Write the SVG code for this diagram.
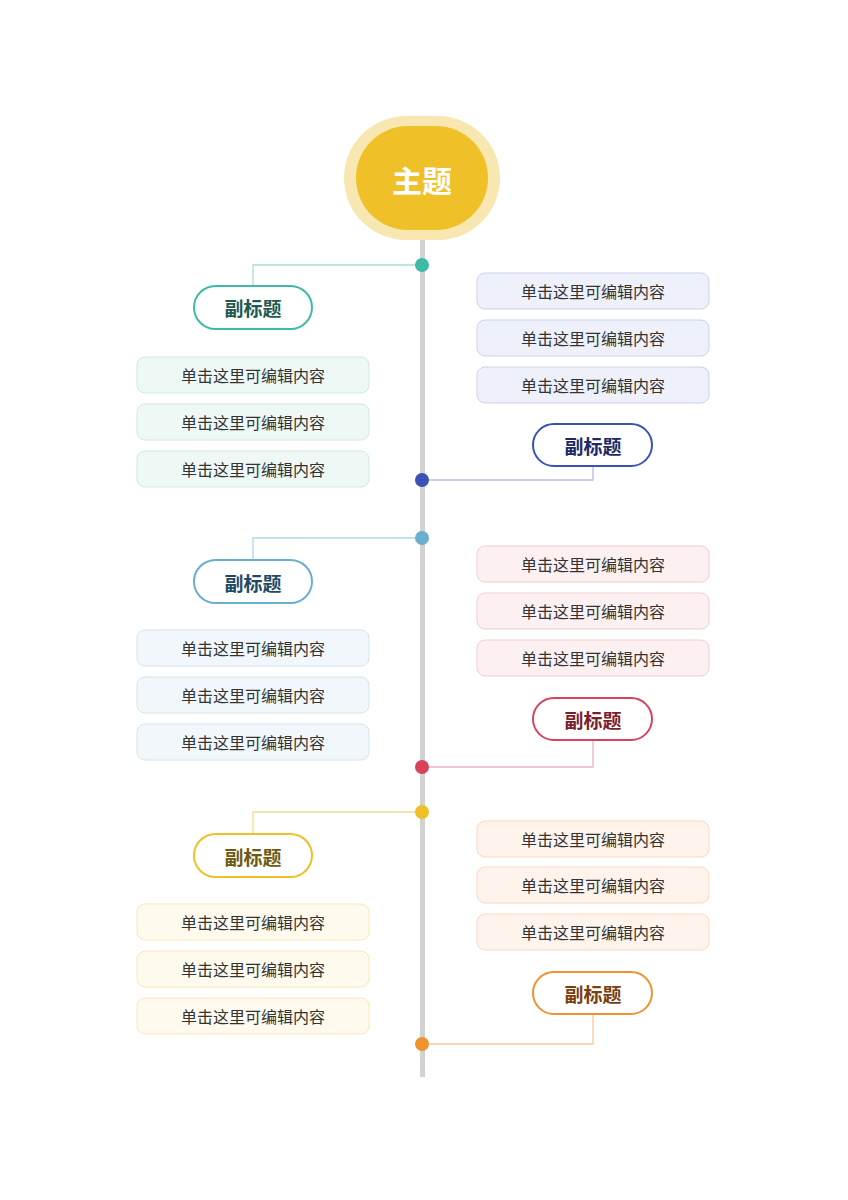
<svg xmlns="http://www.w3.org/2000/svg" width="848" height="1200" viewBox="0 0 848 1200">
<style>
text{font-family:"Noto Sans CJK SC","Noto Sans",sans-serif;text-anchor:middle;dominant-baseline:central}
.c{font-size:16px;fill:#333}
.s{font-size:19px;font-weight:bold}
.b{stroke-width:1}
.p{fill:#fff;stroke-width:2}
.l{fill:none;stroke-width:1.3}
</style>
<rect width="848" height="1200" fill="#fff"/>
<rect x="420" y="230" width="5" height="847" fill="#d2d2d2"/>
<g id="main">
<rect x="344" y="116" width="156" height="124" rx="62" fill="#f8e7b0"/>
<rect x="356" y="126" width="132" height="104" rx="52" fill="#efc027"/>
<text x="422" y="179" style="font-size:30px;font-weight:bold;fill:#fff">主题</text>
</g>
<g id="connectors">
<path class="l" stroke="#a9ddd3" d="M422 265H253V286"/>
<path class="l" stroke="#b4bde8" d="M422 480H593V466"/>
<path class="l" stroke="#b3d5e6" d="M422 538H253V560"/>
<path class="l" stroke="#edb3bd" d="M422 767H593V740"/>
<path class="l" stroke="#f6dc8e" d="M422 812H253V834"/>
<path class="l" stroke="#f8c99a" d="M422 1044H593V1014"/>
</g>
<g id="dots">
<circle cx="422" cy="265" r="7" fill="#3dbba6"/>
<circle cx="422" cy="480" r="7" fill="#3a52b5"/>
<circle cx="422" cy="538" r="7" fill="#6aaed0"/>
<circle cx="422" cy="767" r="7" fill="#d6435a"/>
<circle cx="422" cy="812" r="7" fill="#efc027"/>
<circle cx="422" cy="1044" r="7" fill="#f0922e"/>
</g>
<g id="sub1"><rect class="p" x="194" y="286" width="118" height="43" rx="21.5" stroke="#3dbba6"/><text class="s" x="253" y="307" fill="#1e5a50">副标题</text></g>
<g id="sub2"><rect class="p" x="533" y="424" width="119" height="42" rx="21" stroke="#3a52b5"/><text class="s" x="593" y="445" fill="#1c2a66">副标题</text></g>
<g id="sub3"><rect class="p" x="194" y="560" width="118" height="43" rx="21.5" stroke="#6aaed0"/><text class="s" x="253" y="582" fill="#1f4a66">副标题</text></g>
<g id="sub4"><rect class="p" x="533" y="698" width="119" height="42" rx="21" stroke="#d6435a"/><text class="s" x="593" y="719" fill="#7a1f2c">副标题</text></g>
<g id="sub5"><rect class="p" x="194" y="834" width="118" height="43" rx="21.5" stroke="#efc027"/><text class="s" x="253" y="856" fill="#6e5a10">副标题</text></g>
<g id="sub6"><rect class="p" x="533" y="972" width="119" height="42" rx="21" stroke="#f0922e"/><text class="s" x="593" y="993" fill="#7a4010">副标题</text></g>
<g id="boxes1" fill="#eef8f5" stroke="#cdebe4">
<g id="b1a"><rect x="137" y="357" width="232" height="36" rx="8"/><text class="c" x="253" y="375" stroke="none">单击这里可编辑内容</text></g>
<g id="b1b"><rect x="137" y="404" width="232" height="36" rx="8"/><text class="c" x="253" y="422" stroke="none">单击这里可编辑内容</text></g>
<g id="b1c"><rect x="137" y="451" width="232" height="36" rx="8"/><text class="c" x="253" y="469" stroke="none">单击这里可编辑内容</text></g>
</g>
<g id="boxes2" fill="#eef0fa" stroke="#ccd1f0">
<g id="b2a"><rect x="477" y="273" width="232" height="36" rx="8"/><text class="c" x="593" y="291" stroke="none">单击这里可编辑内容</text></g>
<g id="b2b"><rect x="477" y="320" width="232" height="36" rx="8"/><text class="c" x="593" y="338" stroke="none">单击这里可编辑内容</text></g>
<g id="b2c"><rect x="477" y="367" width="232" height="36" rx="8"/><text class="c" x="593" y="385" stroke="none">单击这里可编辑内容</text></g>
</g>
<g id="boxes3" fill="#f1f7fa" stroke="#d3e6ef">
<g id="b3a"><rect x="137" y="630" width="232" height="36" rx="8"/><text class="c" x="253" y="648" stroke="none">单击这里可编辑内容</text></g>
<g id="b3b"><rect x="137" y="677" width="232" height="36" rx="8"/><text class="c" x="253" y="695" stroke="none">单击这里可编辑内容</text></g>
<g id="b3c"><rect x="137" y="724" width="232" height="36" rx="8"/><text class="c" x="253" y="742" stroke="none">单击这里可编辑内容</text></g>
</g>
<g id="boxes4" fill="#fdf0f1" stroke="#f3cdd3">
<g id="b4a"><rect x="477" y="546" width="232" height="36" rx="8"/><text class="c" x="593" y="564" stroke="none">单击这里可编辑内容</text></g>
<g id="b4b"><rect x="477" y="593" width="232" height="36" rx="8"/><text class="c" x="593" y="611" stroke="none">单击这里可编辑内容</text></g>
<g id="b4c"><rect x="477" y="640" width="232" height="36" rx="8"/><text class="c" x="593" y="658" stroke="none">单击这里可编辑内容</text></g>
</g>
<g id="boxes5" fill="#fffaee" stroke="#f8e8b8">
<g id="b5a"><rect x="137" y="904" width="232" height="36" rx="8"/><text class="c" x="253" y="922" stroke="none">单击这里可编辑内容</text></g>
<g id="b5b"><rect x="137" y="951" width="232" height="36" rx="8"/><text class="c" x="253" y="969" stroke="none">单击这里可编辑内容</text></g>
<g id="b5c"><rect x="137" y="998" width="232" height="36" rx="8"/><text class="c" x="253" y="1016" stroke="none">单击这里可编辑内容</text></g>
</g>
<g id="boxes6" fill="#fff4ec" stroke="#fad9bf">
<g id="b6a"><rect x="477" y="821" width="232" height="36" rx="8"/><text class="c" x="593" y="839" stroke="none">单击这里可编辑内容</text></g>
<g id="b6b"><rect x="477" y="867" width="232" height="36" rx="8"/><text class="c" x="593" y="885" stroke="none">单击这里可编辑内容</text></g>
<g id="b6c"><rect x="477" y="914" width="232" height="36" rx="8"/><text class="c" x="593" y="932" stroke="none">单击这里可编辑内容</text></g>
</g>
</svg>
